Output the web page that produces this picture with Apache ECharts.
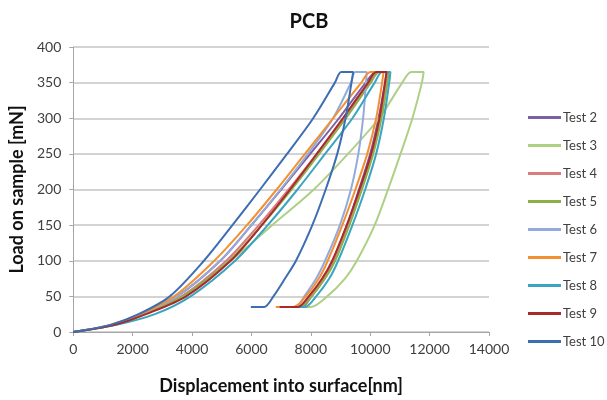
<!DOCTYPE html>
<html>
<head>
<meta charset="utf-8">
<script src="https://cdn.jsdelivr.net/npm/echarts@6/dist/echarts.min.js"></script>
<style>
  html, body { margin: 0; padding: 0; background: #fff; }
  #chart { width: 607px; height: 400px; }
</style>
</head>
<body>
<div id="chart"></div>
<script>
const loadLevels = [0, 10, 25, 50, 100, 150, 200, 250, 300, 350, 365];
const unloadLevels = [365, 350, 300, 250, 200, 150, 100, 75, 50, 35];
const holdLoad = 35;

const testNames = ["Test 2", "Test 3", "Test 4", "Test 5", "Test 6", "Test 7", "Test 8", "Test 9", "Test 10"];
const testColors = ["#7D60A0", "#AFD084", "#DB7B7C", "#8CAF4B", "#92ABDA", "#F39034", "#3AA5C0", "#A9292D", "#3D6EB2"];

// displacement [nm] on loading, at loadLevels
const load2 = [0, 1300, 2250, 3500, 4950, 6000, 7000, 7980, 8950, 9850, 10200];
const load3 = [0, 1350, 2350, 3650, 5300, 6700, 8100, 9250, 10300, 11080, 11380];
const load4 = [0, 1350, 2350, 3650, 5150, 6250, 7250, 8200, 9130, 9980, 10250];
const load5 = [0, 1400, 2400, 3690, 5250, 6350, 7350, 8280, 9180, 10020, 10300];
const load6 = [0, 1300, 2250, 3500, 4950, 6000, 6980, 7900, 8750, 9350, 9500];
const load7 = [0, 1250, 2250, 3400, 4750, 5850, 6850, 7800, 8750, 9700, 10000];
const load8 = [0, 1450, 2750, 3950, 5450, 6550, 7550, 8480, 9400, 10150, 10400];
const load9 = [0, 1400, 2450, 3800, 5300, 6350, 7300, 8200, 9080, 9930, 10200];
const load10 = [0, 1250, 2200, 3250, 4400, 5360, 6290, 7200, 8080, 8810, 9025];

// displacement [nm] on unloading, at unloadLevels (first value = end of hold at max load)
const unload2 = [10550, 10500, 10280, 10000, 9620, 9220, 8750, 8450, 8020, 7700];
const unload3 = [11800, 11740, 11420, 11020, 10600, 10150, 9550, 9150, 8550, 8000];
const unload4 = [10600, 10550, 10350, 10080, 9680, 9250, 8760, 8420, 7980, 7600];
const unload5 = [10620, 10580, 10380, 10100, 9720, 9300, 8820, 8480, 8030, 7650];
const unload6 = [9880, 9860, 9760, 9600, 9350, 8980, 8480, 8180, 7780, 7500];
const unload7 = [10450, 10400, 10200, 9900, 9500, 9060, 8570, 8270, 7830, 7400];
const unload8 = [10680, 10640, 10460, 10200, 9830, 9400, 8920, 8620, 8180, 7800];
const unload9 = [10550, 10500, 10310, 10030, 9640, 9210, 8720, 8380, 7930, 7550];
const unload10 = [9427, 9370, 9170, 8890, 8500, 8050, 7500, 7130, 6740, 6430];

// left end of the hold at low load
const holdEnd = [7200, 7550, 7100, 7250, 7300, 6820, 7450, 6950, 5980];

const loads = [load2, load3, load4, load5, load6, load7, load8, load9, load10];
const unloads = [unload2, unload3, unload4, unload5, unload6, unload7, unload8, unload9, unload10];

var font = "Lato, 'Open Sans', sans-serif";

var series = testNames.map(function (name, k) {
  var pts = loads[k].map(function (x, i) { return [x, loadLevels[i]]; });
  unloads[k].forEach(function (x, i) { pts.push([x, unloadLevels[i]]); });
  pts.push([holdEnd[k], holdLoad]);
  return {
    name: name,
    type: "line",
    data: pts,
    symbol: "none",
    smooth: 0.3,
    lineStyle: { width: 2, color: testColors[k] },
    itemStyle: { color: testColors[k] },
    animation: false
  };
});

var chart = echarts.init(document.getElementById("chart"), null, { renderer: "canvas" });
chart.setOption({
  animation: false,
  title: {
    text: "PCB",
    left: 304,
    top: 7,
    textAlign: "center",
    textStyle: { fontFamily: font, fontSize: 20, fontWeight: "bold", color: "#111" }
  },
  grid: { left: 72, right: 118, top: 47, bottom: 66 },
  legend: {
    orient: "vertical",
    left: 523,
    top: 106,
    icon: "rect",
    itemWidth: 33,
    itemHeight: 3,
    itemGap: 15,
    data: testNames,
    textStyle: { fontFamily: font, fontSize: 13, color: "#404040", padding: [0, 0, 0, -3] }
  },
  xAxis: {
    type: "value",
    min: 0,
    max: 14000,
    interval: 2000,
    name: "Displacement into surface[nm]",
    nameLocation: "middle",
    nameGap: 45,
    nameTextStyle: { fontFamily: font, fontSize: 18, fontWeight: "bold", color: "#111" },
    axisLine: { show: true, lineStyle: { color: "#A6A6A6", width: 1 } },
    axisTick: { show: true, length: 4, lineStyle: { color: "#A6A6A6" } },
    axisLabel: {
      fontFamily: font, fontSize: 14, color: "#404040", margin: 10,
      formatter: function (v) { return String(v); }
    },
    splitLine: { show: false }
  },
  yAxis: {
    type: "value",
    min: 0,
    max: 400,
    interval: 50,
    name: "Load on sample [mN]",
    nameLocation: "middle",
    nameGap: 41,
    nameTextStyle: { fontFamily: font, fontSize: 18, fontWeight: "bold", color: "#111" },
    axisLine: { show: true, lineStyle: { color: "#A6A6A6", width: 1 } },
    axisTick: { show: true, length: 4, lineStyle: { color: "#A6A6A6" } },
    axisLabel: { fontFamily: font, fontSize: 14, color: "#404040", margin: 12 },
    splitLine: { show: true, lineStyle: { color: "#C4C4C4", width: 1.5 } }
  },
  series: series
});
</script>
</body>
</html>
